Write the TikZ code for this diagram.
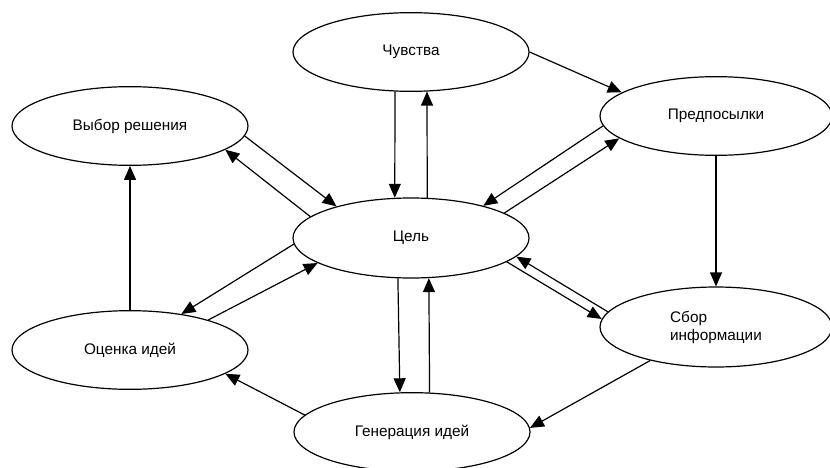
\documentclass[tikz,border=0pt]{standalone}
\usepackage{fontspec}
\setmainfont{Liberation Sans}
\usetikzlibrary{arrows.meta,shapes.geometric}

\begin{document}
\begin{tikzpicture}[x=0.75pt,y=-0.75pt,
  oval/.style={draw, line width=0.9pt, ellipse, inner sep=0pt,
    minimum width=177pt, minimum height=59pt, font=\fontsize{11.5}{13.5}\selectfont},
  link/.style={line width=0.9pt, -{Triangle[length=10.5pt,width=9pt]}}]
  \useasboundingbox (0,0) rectangle (830,467);

  % stages of the process
  \node[oval] (chv) at (411,52)  {Чувства};
  \node[oval] (vyb) at (130,126) {Выбор решения};
  \node[oval, minimum width=174pt] (pre) at (716,116) {Предпосылки};
  \node[oval, minimum height=60pt] (cel) at (411,238) {Цель};
  \node[oval] (otz) at (130,350) {Оценка идей};
  \node[oval, minimum width=174pt, minimum height=60pt, align=left] (sbr) at (716,327) {Сбор\\информации};
  \node[oval] (gen) at (412,432) {Генерация идей};

  % feelings and goal
  \draw[link] (chv.-112) -- (cel.112);
  \draw[link] (cel.68) -- (chv.-68);
  \draw[link] (chv.0) -- (pre.166);

  % decision and goal
  \draw[link] (vyb.-5) -- (cel.157);
  \draw[link] (cel.168) -- (vyb.-14);

  % premises and goal
  \draw[link] (pre.-175) -- (cel.24);
  \draw[link] (cel.15) -- (pre.-167);
  \draw[link] (pre.south) -- (sbr.north);

  % information gathering
  \draw[link] (cel.-14) -- (sbr.176);
  \draw[link] (sbr.172) -- (cel.-10);
  \draw[link] (sbr.-153) -- (gen.2);

  % idea generation
  \draw[link] (cel.-108) -- (gen.107);
  \draw[link] (gen.66) -- (cel.-66);
  \draw[link] (gen.171) -- (otz.-14);

  % evaluation of ideas
  \draw[link] (cel.-177) -- (otz.35);
  \draw[link] (otz.21) -- (cel.-165);
  \draw[link] (otz.north) -- (vyb.south);
\end{tikzpicture}
\end{document}
